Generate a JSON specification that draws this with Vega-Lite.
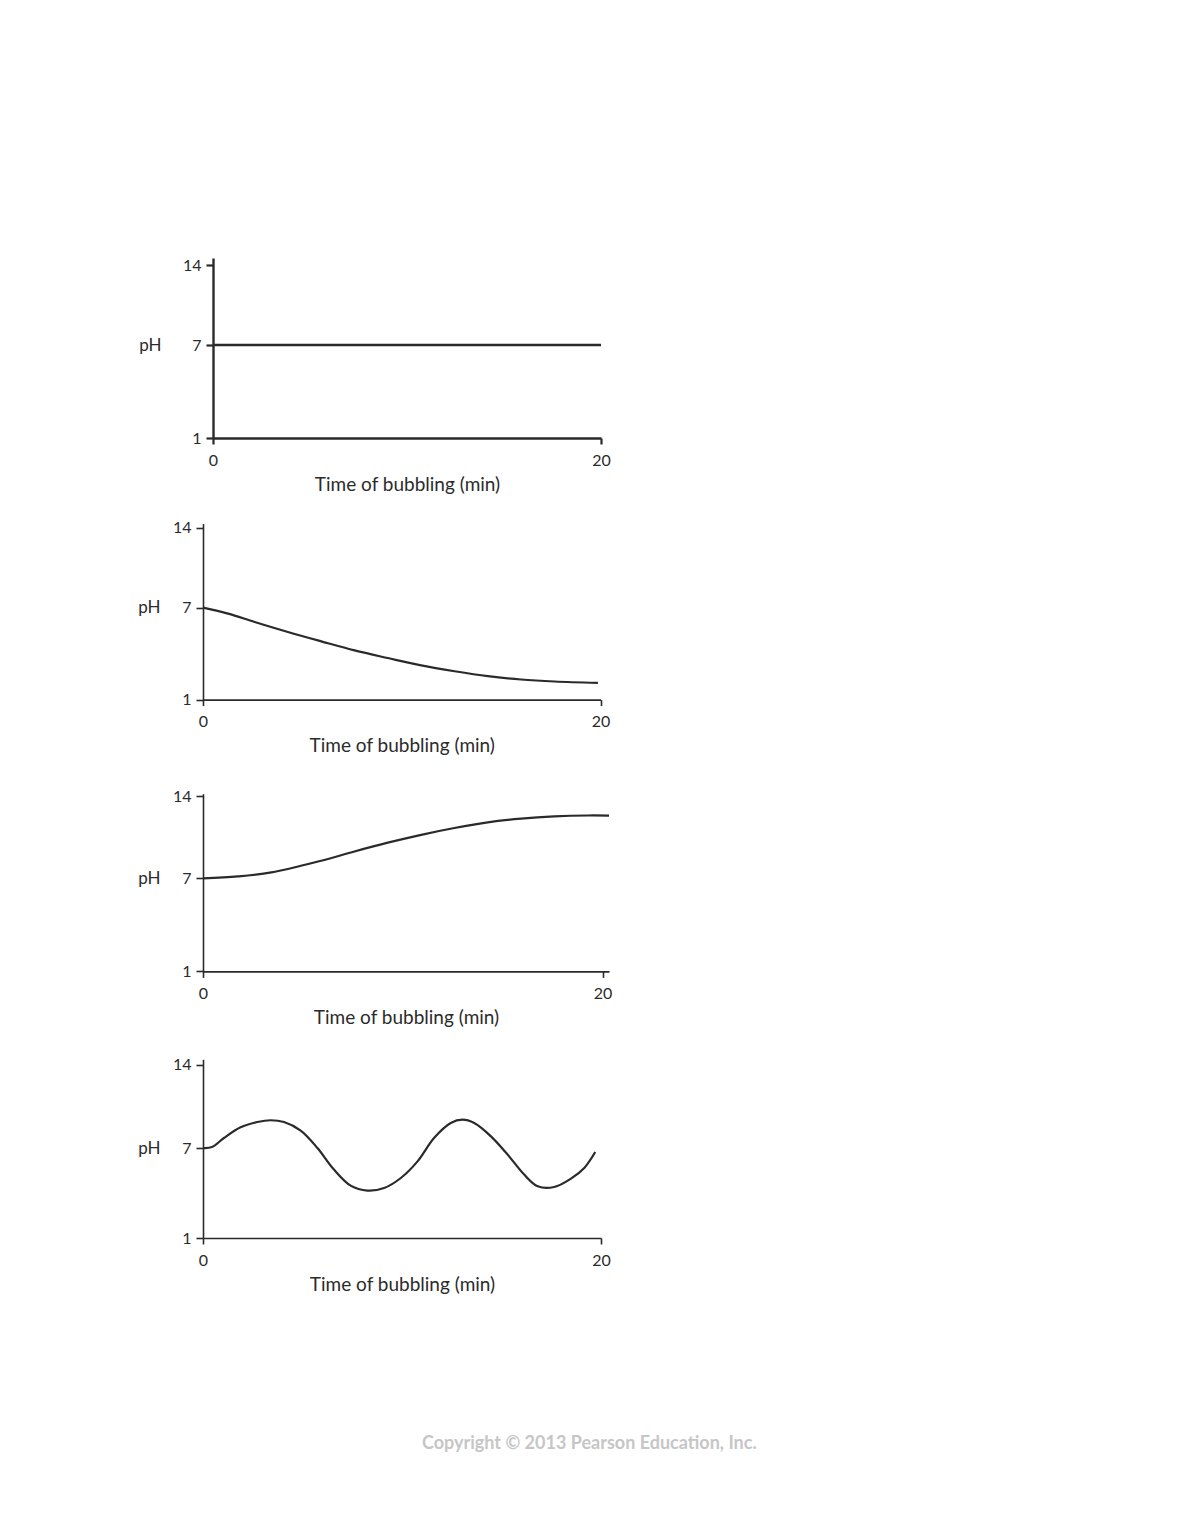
{
  "$schema": "https://vega.github.io/schema/vega-lite/v6.json",
  "background": "white",
  "padding": {"left": 137, "top": 257, "right": 0, "bottom": 0},
  "title": {
    "text": "Copyright © 2013 Pearson Education, Inc.",
    "orient": "bottom",
    "anchor": "start",
    "frame": "group",
    "dx": 219,
    "offset": 141,
    "fontSize": 18,
    "fontWeight": "bold",
    "color": "#c6c6c6",
    "font": "Lato"
  },
  "datasets": {
    "curves": [
      {"panel": 1, "t": 0, "ph": 7},
      {"panel": 1, "t": 20, "ph": 7},
      {"panel": 2, "t": 0, "ph": 7.0},
      {"panel": 2, "t": 1.26, "ph": 6.61},
      {"panel": 2, "t": 2.6, "ph": 6.06},
      {"panel": 2, "t": 4.27, "ph": 5.41},
      {"panel": 2, "t": 5.95, "ph": 4.8},
      {"panel": 2, "t": 7.63, "ph": 4.21},
      {"panel": 2, "t": 9.3, "ph": 3.71},
      {"panel": 2, "t": 10.98, "ph": 3.23},
      {"panel": 2, "t": 12.66, "ph": 2.85},
      {"panel": 2, "t": 14.33, "ph": 2.53},
      {"panel": 2, "t": 16.0, "ph": 2.31},
      {"panel": 2, "t": 17.69, "ph": 2.18},
      {"panel": 2, "t": 19.87, "ph": 2.09},
      {"panel": 3, "t": 0, "ph": 7.0},
      {"panel": 3, "t": 1.75, "ph": 7.17},
      {"panel": 3, "t": 3.42, "ph": 7.51},
      {"panel": 3, "t": 5.92, "ph": 8.51},
      {"panel": 3, "t": 7.58, "ph": 9.3},
      {"panel": 3, "t": 9.25, "ph": 10.05},
      {"panel": 3, "t": 10.92, "ph": 10.72},
      {"panel": 3, "t": 12.58, "ph": 11.3},
      {"panel": 3, "t": 14.25, "ph": 11.79},
      {"panel": 3, "t": 15.92, "ph": 12.1},
      {"panel": 3, "t": 17.58, "ph": 12.29},
      {"panel": 3, "t": 19.25, "ph": 12.37},
      {"panel": 3, "t": 20.32, "ph": 12.36},
      {"panel": 4, "t": 0, "ph": 7.0},
      {"panel": 4, "t": 0.45, "ph": 7.08},
      {"panel": 4, "t": 1.05, "ph": 7.84},
      {"panel": 4, "t": 1.89, "ph": 8.74},
      {"panel": 4, "t": 2.73, "ph": 9.18},
      {"panel": 4, "t": 3.4, "ph": 9.33},
      {"panel": 4, "t": 4.07, "ph": 9.18},
      {"panel": 4, "t": 4.91, "ph": 8.46},
      {"panel": 4, "t": 5.75, "ph": 7.0},
      {"panel": 4, "t": 6.58, "ph": 5.56},
      {"panel": 4, "t": 7.42, "ph": 4.49},
      {"panel": 4, "t": 8.26, "ph": 4.16},
      {"panel": 4, "t": 9.1, "ph": 4.33},
      {"panel": 4, "t": 9.94, "ph": 5.0},
      {"panel": 4, "t": 10.78, "ph": 6.11},
      {"panel": 4, "t": 11.61, "ph": 7.84},
      {"panel": 4, "t": 12.45, "ph": 9.1},
      {"panel": 4, "t": 13.04, "ph": 9.38},
      {"panel": 4, "t": 13.63, "ph": 9.1},
      {"panel": 4, "t": 14.47, "ph": 7.98},
      {"panel": 4, "t": 15.31, "ph": 6.56},
      {"panel": 4, "t": 16.14, "ph": 5.23},
      {"panel": 4, "t": 16.82, "ph": 4.45},
      {"panel": 4, "t": 17.65, "ph": 4.4},
      {"panel": 4, "t": 18.49, "ph": 4.96},
      {"panel": 4, "t": 19.16, "ph": 5.67},
      {"panel": 4, "t": 19.71, "ph": 6.73}
    ]
  },
  "bounds": "flush",
  "spacing": 75,
  "vconcat": [
    {
      "width": 398,
      "height": 180,
      "data": {"name": "curves"},
      "transform": [{"filter": "datum.panel == 1"}],
      "mark": {"type": "line", "strokeWidth": 2.5},
      "encoding": {
        "x": {
          "field": "t",
          "type": "quantitative",
          "scale": {"domain": [0, 20], "range": [10, 398], "nice": false, "zero": false},
          "axis": {"values": [0, 20], "title": "Time of bubbling (min)", "domainWidth": 2.4, "tickWidth": 2.2}
        },
        "y": {
          "field": "ph",
          "type": "quantitative",
          "scale": {"domain": [1, 7, 14, 14.6], "range": [180, 87, 7, 0], "nice": false, "zero": false},
          "axis": {"values": [1, 7, 14], "title": "pH", "offset": -10, "titleX": -52, "titleY": 87, "domainWidth": 2.4, "tickWidth": 2.2}
        }
      }
    },
    {
      "width": 398,
      "height": 186.6,
      "data": {"name": "curves"},
      "transform": [{"filter": "datum.panel == 2"}],
      "mark": {"type": "line", "interpolate": "catmull-rom"},
      "encoding": {
        "x": {
          "field": "t",
          "type": "quantitative",
          "scale": {"domain": [0, 20], "range": [0, 397.5], "nice": false, "zero": false},
          "axis": {"values": [0, 20], "title": "Time of bubbling (min)"}
        },
        "y": {
          "field": "ph",
          "type": "quantitative",
          "scale": {"domain": [1, 7, 14, 14.3], "range": [186.6, 94.6, 14.8, 10.6], "nice": false, "zero": false},
          "axis": {"values": [1, 7, 14], "title": "pH", "titleX": -43, "titleY": 94.6}
        }
      }
    },
    {
      "width": 406,
      "height": 196.4,
      "data": {"name": "curves"},
      "transform": [{"filter": "datum.panel == 3"}],
      "mark": {"type": "line", "interpolate": "catmull-rom"},
      "encoding": {
        "x": {
          "field": "t",
          "type": "quantitative",
          "scale": {"domain": [0, 20.32], "range": [0, 406], "nice": false, "zero": false},
          "axis": {"values": [0, 20], "title": "Time of bubbling (min)"}
        },
        "y": {
          "field": "ph",
          "type": "quantitative",
          "scale": {"domain": [1, 7, 14, 14.2], "range": [196.4, 103.4, 21.4, 18.7], "nice": false, "zero": false},
          "axis": {"values": [1, 7, 14], "title": "pH", "titleX": -43, "titleY": 103.4}
        }
      }
    },
    {
      "width": 398,
      "height": 191,
      "data": {"name": "curves"},
      "transform": [{"filter": "datum.panel == 4"}],
      "mark": {"type": "line", "interpolate": "catmull-rom"},
      "encoding": {
        "x": {
          "field": "t",
          "type": "quantitative",
          "scale": {"domain": [0, 20], "range": [0, 398], "nice": false, "zero": false},
          "axis": {"values": [0, 20], "title": "Time of bubbling (min)"}
        },
        "y": {
          "field": "ph",
          "type": "quantitative",
          "scale": {"domain": [1, 7, 14, 14.4], "range": [191, 101, 17.6, 12.3], "nice": false, "zero": false},
          "axis": {"values": [1, 7, 14], "title": "pH", "titleX": -43, "titleY": 101}
        }
      }
    }
  ],
  "config": {
    "view": {"stroke": null},
    "font": "Lato",
    "axis": {
      "grid": false,
      "domainColor": "#2a2a2a",
      "tickColor": "#2a2a2a",
      "domainWidth": 1.6,
      "tickWidth": 1.6,
      "labelColor": "#2b2b2b",
      "titleColor": "#2b2b2b",
      "labelFont": "Lato",
      "titleFont": "Lato",
      "labelFontSize": 16,
      "titleFontSize": 19,
      "titleFontWeight": "normal"
    },
    "axisX": {"tickSize": 6, "labelPadding": 8, "titlePadding": 7, "labelFlush": false},
    "axisY": {"tickSize": 7, "labelPadding": 5, "titleAngle": 0, "titleAlign": "right", "titleBaseline": "middle", "titleFontSize": 17},
    "line": {"color": "#2a2a2a", "strokeWidth": 2.2}
  }
}
